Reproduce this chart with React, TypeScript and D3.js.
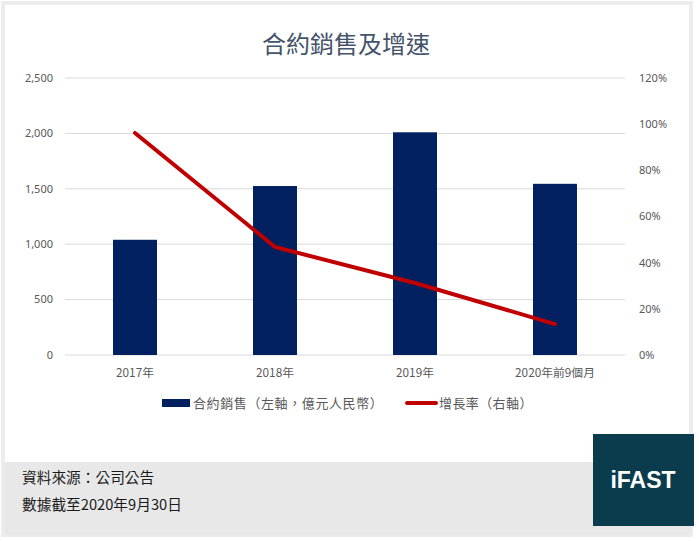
import { useEffect, useRef } from "react";
import * as d3 from "d3";

const categories = ["2017年", "2018年", "2019年", "2020年前9個月"];
const sales = [1040, 1525, 2010, 1545];
const growth = [0.962, 0.468, 0.312, 0.134];
const leftTicks = [0, 500, 1000, 1500, 2000, 2500];
const rightTicks = [0, 0.2, 0.4, 0.6, 0.8, 1.0, 1.2];

const CJK = "'Noto Sans CJK TC', 'Noto Sans', sans-serif";

export default function App() {
    const svgRef = useRef<SVGSVGElement | null>(null);

    useEffect(() => {
        if (!svgRef.current) return;
        const svg = d3.select(svgRef.current);
        svg.selectAll("*").remove();

        const width = 699;
        const height = 541;
        const plot = { left: 65, right: 625, top: 78, bottom: 355 };

        // frame and footer
        svg.append("rect")
            .attr("x", 0).attr("y", 0)
            .attr("width", width).attr("height", height)
            .attr("fill", "#ffffff");
        svg.append("rect")
            .attr("x", 3).attr("y", 3)
            .attr("width", 688).attr("height", 532)
            .attr("fill", "#ffffff")
            .attr("stroke", "#ececec")
            .attr("stroke-width", 4);
        svg.append("rect")
            .attr("x", 5).attr("y", 462)
            .attr("width", 686).attr("height", 73)
            .attr("fill", "#e8e8e8");
        svg.append("rect")
            .attr("x", 593).attr("y", 434)
            .attr("width", 101).attr("height", 92)
            .attr("fill", "#0a3c4e");
        svg.append("text")
            .attr("x", 643).attr("y", 488)
            .attr("text-anchor", "middle")
            .attr("font-family", "'Liberation Sans', Arial, sans-serif")
            .attr("font-weight", "bold")
            .attr("font-size", "23px")
            .attr("fill", "#ffffff")
            .text("iFAST");
        svg.append("text")
            .attr("x", 22).attr("y", 483)
            .attr("font-family", CJK)
            .attr("font-size", "14.7px")
            .attr("fill", "#1a1a1a")
            .text("資料來源：公司公告");
        svg.append("text")
            .attr("x", 22).attr("y", 510)
            .attr("font-family", CJK)
            .attr("font-size", "14.7px")
            .attr("fill", "#1a1a1a")
            .text("數據截至2020年9月30日");

        // title
        svg.append("text")
            .attr("x", 346).attr("y", 53)
            .attr("text-anchor", "middle")
            .attr("font-family", CJK)
            .attr("font-size", "24px")
            .attr("fill", "#44546a")
            .text("合約銷售及增速");

        // scales
        const x = d3.scaleBand()
            .domain(categories)
            .range([plot.left, plot.right])
            .paddingInner(0.686)
            .paddingOuter(0.343);
        const yL = d3.scaleLinear().domain([0, 2500]).range([plot.bottom, plot.top]);
        const yR = d3.scaleLinear().domain([0, 1.2]).range([plot.bottom, plot.top]);

        // gridlines
        svg.append("g")
            .selectAll("line")
            .data(leftTicks)
            .enter()
            .append("line")
            .attr("x1", plot.left).attr("x2", plot.right)
            .attr("y1", (d) => yL(d)).attr("y2", (d) => yL(d))
            .attr("stroke", "#d9d9d9")
            .attr("stroke-width", 1);

        // left axis labels
        svg.append("g")
            .selectAll("text")
            .data(leftTicks)
            .enter()
            .append("text")
            .attr("x", 53)
            .attr("y", (d) => yL(d))
            .attr("dy", "0.35em")
            .attr("text-anchor", "end")
            .attr("font-family", "'Noto Sans', sans-serif")
            .attr("font-size", "11px")
            .attr("fill", "#595959")
            .text((d) => d3.format(",")(d));

        // right axis labels
        svg.append("g")
            .selectAll("text")
            .data(rightTicks)
            .enter()
            .append("text")
            .attr("x", 639)
            .attr("y", (d) => yR(d))
            .attr("dy", "0.35em")
            .attr("font-family", "'Noto Sans', sans-serif")
            .attr("font-size", "11px")
            .attr("fill", "#595959")
            .text((d) => d3.format(".0%")(d));

        // category labels
        svg.append("g")
            .selectAll("text")
            .data(categories)
            .enter()
            .append("text")
            .attr("x", (d) => (x(d) || 0) + x.bandwidth() / 2)
            .attr("y", 377)
            .attr("text-anchor", "middle")
            .attr("font-family", CJK)
            .attr("font-size", "11.8px")
            .attr("fill", "#595959")
            .text((d) => d);

        // bars
        svg.append("g")
            .selectAll("rect")
            .data(sales)
            .enter()
            .append("rect")
            .attr("x", (_, i) => x(categories[i]) || 0)
            .attr("y", (d) => yL(d))
            .attr("width", x.bandwidth())
            .attr("height", (d) => plot.bottom - yL(d))
            .attr("fill", "#002060");

        // growth line
        const line = d3.line<number>()
            .x((_, i) => (x(categories[i]) || 0) + x.bandwidth() / 2)
            .y((d) => yR(d));
        svg.append("path")
            .datum(growth)
            .attr("d", line)
            .attr("fill", "none")
            .attr("stroke", "#c00000")
            .attr("stroke-width", 4)
            .attr("stroke-linejoin", "round")
            .attr("stroke-linecap", "round");

        // legend
        const legend = svg.append("g");
        legend.append("rect")
            .attr("x", 162).attr("y", 399)
            .attr("width", 28).attr("height", 8)
            .attr("fill", "#002060");
        legend.append("text")
            .attr("x", 193).attr("y", 408)
            .attr("font-family", CJK)
            .attr("font-size", "13px")
            .attr("letter-spacing", "0.6px")
            .attr("fill", "#595959")
            .text("合約銷售（左軸，億元人民幣）");
        legend.append("line")
            .attr("x1", 407).attr("x2", 436)
            .attr("y1", 403).attr("y2", 403)
            .attr("stroke", "#c00000")
            .attr("stroke-width", 4)
            .attr("stroke-linecap", "round");
        legend.append("text")
            .attr("x", 439).attr("y", 408)
            .attr("font-family", CJK)
            .attr("font-size", "13px")
            .attr("letter-spacing", "0.4px")
            .attr("fill", "#595959")
            .text("增長率（右軸）");
    }, []);

    return (
        <svg
            ref={svgRef}
            width={699}
            height={541}
            style={{ position: "absolute", left: 0, top: 0, display: "block" }}
        />
    );
}
